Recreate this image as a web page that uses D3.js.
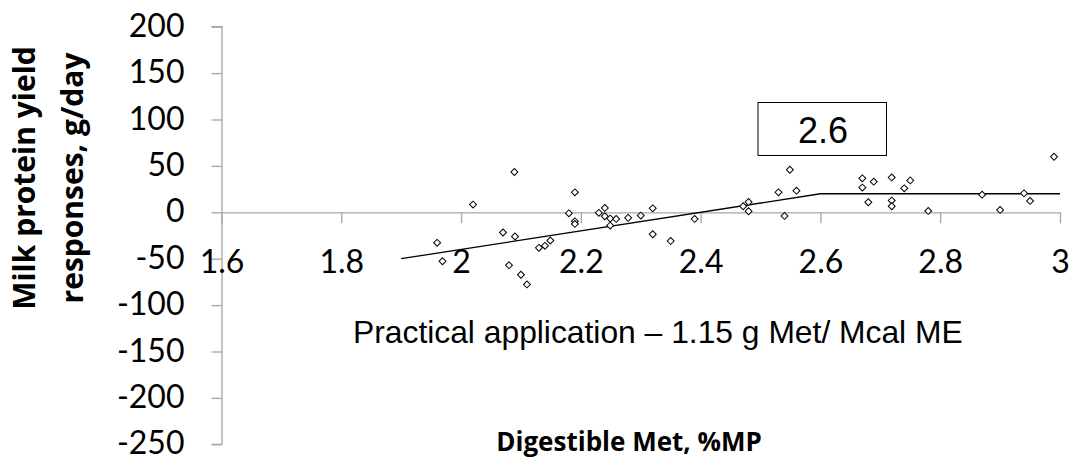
<!DOCTYPE html>
<html>
<head>
<meta charset="utf-8">
<script src="https://cdn.jsdelivr.net/npm/d3@7"></script>
<style>
  html, body { margin: 0; padding: 0; background: #fff; }
  svg { display: block; }
</style>
</head>
<body>
<svg id="chart" width="1073" height="458"></svg>
<script>
// ---- data ----
const metX = [1.960, 1.969, 2.020, 2.089, 2.070, 2.090, 2.080, 2.100, 2.110, 2.130,
              2.140, 2.149, 2.180, 2.190, 2.190, 2.190, 2.230, 2.240, 2.240, 2.249,
              2.259, 2.249, 2.279, 2.300, 2.320, 2.320, 2.350, 2.390, 2.471, 2.480,
              2.480, 2.530, 2.549, 2.560, 2.540, 2.670, 2.670, 2.680, 2.689, 2.719,
              2.719, 2.719, 2.740, 2.750, 2.780, 2.870, 2.900, 2.940, 2.950, 2.990];
const responseY = [-32.9, -52.7, 8.3, 43.4, -21.8, -26.1, -57.0, -67.3, -77.7, -38.3,
                   -36.1, -30.4, -1.1, 21.5, -9.7, -12.5, -0.6, 4.7, -4.3, -6.8,
                   -7.1, -14.3, -6.0, -3.5, 4.3, -23.7, -30.8, -7.1, 6.5, 11.2,
                   1.1, 21.5, 45.9, 23.3, -3.9, 36.6, 26.6, 10.8, 33.0, 37.6,
                   12.6, 6.5, 25.8, 34.4, 1.5, 19.0, 2.6, 20.4, 12.3, 59.9];
const fitX = [1.9, 2.6, 3.0];
const fitY = [-50, 20, 20];
const xTicks = [1.6, 1.8, 2.0, 2.2, 2.4, 2.6, 2.8, 3.0];
const xTickLabels = ["1.6", "1.8", "2", "2.2", "2.4", "2.6", "2.8", "3"];
const yTicks = [200, 150, 100, 50, 0, -50, -100, -150, -200, -250];
const breakpointLabel = "2.6";
const noteText = "Practical application \u2013 1.15 g Met/ Mcal ME";
const xTitle = "Digestible Met, %MP";
const yTitleLines = ["Milk protein yield", "responses, g/day"];

// ---- layout ----
const svg = d3.select("#chart");
svg.append("rect").attr("width", 1073).attr("height", 458).attr("fill", "#fff");

const x = d3.scaleLinear().domain([1.6, 3.0]).range([221.5, 1060]);
const y = d3.scaleLinear().domain([-250, 200]).range([444.3, 26.7]);
const axisColor = "#a6a6a6";
const tickFont = "Lato, 'Open Sans', sans-serif";
const titleFont = "'Open Sans', Lato, sans-serif";

// y axis
const yAxis = svg.append("g")
  .attr("transform", `translate(${x(1.6)},0)`)
  .call(d3.axisLeft(y).tickValues(yTicks).tickSize(10).tickPadding(27)
        .tickFormat(d => String(d)));
yAxis.select(".domain").attr("stroke", axisColor).attr("stroke-width", 1.3)
  .attr("d", `M-10,${y(200)}H0.5V${y(-250)}H-10`);
yAxis.selectAll(".tick line").attr("stroke", axisColor).attr("stroke-width", 1.3);
yAxis.selectAll(".tick text").attr("fill", "#000")
  .style("font-family", tickFont).style("font-size", "32px").attr("dy", "0.3em");

// x axis at y = 0
const xAxis = svg.append("g")
  .attr("transform", `translate(0,${y(0)})`)
  .call(d3.axisBottom(x).tickValues(xTicks).tickSize(11)
        .tickFormat((d, i) => xTickLabels[i]));
xAxis.select(".domain").attr("stroke", axisColor).attr("stroke-width", 1.3)
  .attr("d", `M${x(1.6)},0.5H${x(3.0)}`);
xAxis.selectAll(".tick line").attr("stroke", axisColor).attr("stroke-width", 1.3);
xAxis.selectAll(".tick text").attr("fill", "#000")
  .style("font-family", tickFont).style("font-size", "32px")
  .attr("y", 273 - y(0)).attr("dy", 0);

// fitted broken-line
const line = d3.line().x(d => x(d[0])).y(d => y(d[1]));
svg.append("path")
  .datum(fitX.map((v, i) => [v, fitY[i]]))
  .attr("d", line)
  .attr("fill", "none").attr("stroke", "#000").attr("stroke-width", 1.3);

// scatter points (diamonds)
const diamond = d3.symbol().type(d3.symbolSquare).size(24);
svg.append("g").selectAll("path")
  .data(metX.map((v, i) => [v, responseY[i]]))
  .join("path")
  .attr("d", diamond)
  .attr("transform", d => `translate(${x(d[0])},${y(d[1])}) rotate(45)`)
  .attr("fill", "#fff").attr("stroke", "#000").attr("stroke-width", 1);

// breakpoint label box
svg.append("rect")
  .attr("x", 758).attr("y", 102.5).attr("width", 128.5).attr("height", 53)
  .attr("fill", "#fff").attr("stroke", "#000").attr("stroke-width", 1);
svg.append("text")
  .attr("x", 823).attr("y", 143.3).attr("text-anchor", "middle")
  .style("font-family", "'Liberation Sans', Arial, sans-serif").style("font-size", "36px")
  .text(breakpointLabel);

// note
svg.append("text")
  .attr("x", 353).attr("y", 342.5)
  .style("font-family", "'Liberation Sans', Arial, sans-serif").style("font-size", "31.8px")
  .text(noteText);

// axis titles
svg.append("text")
  .attr("x", 629).attr("y", 451).attr("text-anchor", "middle")
  .style("font-family", titleFont).style("font-weight", "bold").style("font-size", "26px")
  .text(xTitle);

const yt = svg.append("g").attr("transform", "translate(0,178) rotate(-90)");
yt.append("text").attr("x", 0).attr("y", 35).attr("text-anchor", "middle")
  .style("font-family", titleFont).style("font-weight", "bold").style("font-size", "30px")
  .text(yTitleLines[0]);
yt.append("text").attr("x", 0).attr("y", 83).attr("text-anchor", "middle")
  .style("font-family", titleFont).style("font-weight", "bold").style("font-size", "30px")
  .text(yTitleLines[1]);
</script>
</body>
</html>
